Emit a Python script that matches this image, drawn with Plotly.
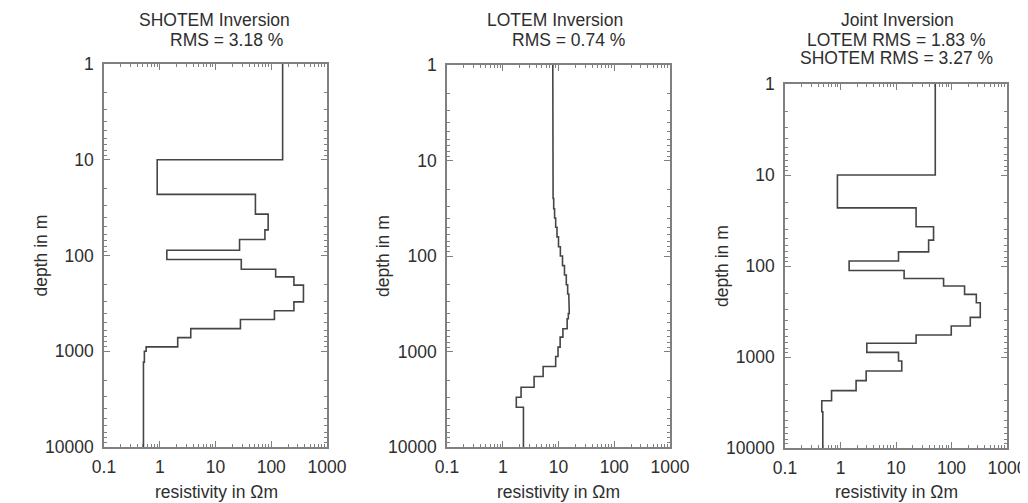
import plotly.graph_objects as go

# ---- data ----
# layer boundaries (depth in m) and resistivities (Ohm m)
shotem_depth = [1, 10, 23, 37, 54, 68, 88, 110, 139, 167, 204, 305, 378, 466, 580, 720, 900, 1000, 1300, 10000]
shotem_rho = [160, 0.9, 52, 88, 77, 27, 1.34, 29, 120, 255, 378, 255, 114, 28, 3.6, 2.1, 0.57, 0.53, 0.51]

lotem_depth = [1, 20, 25, 32, 40, 50, 63, 80, 100, 126, 158, 200, 250, 316, 400, 454, 578, 707, 900,
               1128, 1436, 1828, 2366, 3010, 3840, 10000]
lotem_rho = [7.9, 8.0, 8.2, 8.5, 8.9, 9.4, 10.0, 10.8, 11.8, 12.8, 13.8, 14.6, 15.3, 15.6, 15.0,
             14.3, 12.0, 10.7, 9.8, 8.9, 5.3, 3.65, 2.13, 1.75, 2.35]

joint_depth = [1, 10, 23, 37, 52, 70, 88, 112, 137, 166, 205, 253, 367, 456, 573, 707, 889, 1107,
               1425, 1820, 2344, 3020, 4000, 10000]
joint_rho = [51, 0.88, 23, 47.5, 38.7, 11.1, 1.43, 14, 72, 172, 280, 330, 218, 99, 23, 2.98, 11.1,
             12.7, 2.9, 1.91, 0.69, 0.46, 0.48]

x_tick_vals = [0.1, 1, 10, 100, 1000]
x_tick_text = ["0.1", "1", "10", "100", "1000"]
y_tick_vals = [1, 10, 100, 1000, 10000]
y_tick_text = ["1", "10", "100", "1000", "10000"]

titles = [
    ["SHOTEM Inversion", "RMS = 3.18 %"],
    ["LOTEM Inversion", "RMS = 0.74 %"],
    ["Joint Inversion", "LOTEM RMS = 1.83 %", "SHOTEM RMS = 3.27 %"],
]
x_title = "resistivity in Ωm"
y_title = "depth in m"

# the page body has an 8 px default margin: the figure is sized and positioned to fit the window
OFF = 8
W, H = 1028 - OFF, 503 - OFF
FONT = "Liberation Sans, Arial, Helvetica, sans-serif"
FS = 17.5
TXT = "#2e2e2e"
BOX = "#808080"
CURVE = "#454545"


def px(x):
    return (x - OFF) / W


def py(y):
    return 1 - (y - OFF) / H


# panel boxes in window pixels (left, right, top, bottom)
boxes = [(104, 327, 64, 447), (447, 670, 65, 447), (785, 1007, 84, 448)]


def step_xy(depth, rho):
    xs, ys = [], []
    for i, r in enumerate(rho):
        xs += [r, r]
        ys += [depth[i], depth[i + 1]]
    return xs, ys


def minor_vals(lo_exp, hi_exp):
    vals = []
    for e in range(lo_exp, hi_exp):
        for m in range(2, 10):
            vals.append(m * 10 ** e)
    return vals


fig = go.Figure()
datasets = [(shotem_depth, shotem_rho), (lotem_depth, lotem_rho), (joint_depth, joint_rho)]

for i, (d, r) in enumerate(datasets):
    n = "" if i == 0 else str(i + 1)
    xs, ys = step_xy(d, r)
    fig.add_trace(go.Scatter(x=xs, y=ys, mode="lines", line=dict(color=CURVE, width=1.6),
                             xaxis="x" + n, yaxis="y" + n, showlegend=False, hoverinfo="skip"))
    l, rgt, t, b = boxes[i]
    axis_common = dict(type="log", showgrid=False, zeroline=False, showline=True, linecolor=BOX,
                       linewidth=1.5, mirror="allticks", ticks="inside", ticklen=6, tickcolor=BOX,
                       tickwidth=1, automargin=False,
                       tickfont=dict(family=FONT, size=FS, color=TXT))
    fig.update_layout(**{
        "xaxis" + n: dict(axis_common, domain=[px(l), px(rgt)], range=[-1, 3], anchor="y" + n,
                          tickvals=x_tick_vals, ticktext=x_tick_text, ticklabelstandoff=3,
                          minor=dict(tickvals=minor_vals(-1, 3), ticks="inside", ticklen=3,
                                     tickcolor=BOX, tickwidth=1)),
        "yaxis" + n: dict(axis_common, domain=[py(b), py(t)], range=[4, 0], anchor="x" + n,
                          tickvals=y_tick_vals, ticktext=y_tick_text, ticklabelstandoff=5,
                          minor=dict(tickvals=minor_vals(0, 4), ticks="inside", ticklen=3,
                                     tickcolor=BOX, tickwidth=1)),
    })

# titles
title_pos = [([214, 226], [20, 40]), ([555, 568], [20, 40]), ([897, 896, 896], [20, 40, 58])]
for (cxs, ys), lines in zip(title_pos, titles):
    for cx, yy, txt in zip(cxs, ys, lines):
        fig.add_annotation(x=px(cx), y=py(yy), xref="paper", yref="paper", text=txt,
                           showarrow=False, xanchor="center", yanchor="middle",
                           font=dict(family=FONT, size=FS, color=TXT))

# axis titles
x_title_cx = [216, 558, 896]
y_title_cx = [40, 383, 722]
for i, (l, rgt, t, b) in enumerate(boxes):
    fig.add_annotation(x=px(x_title_cx[i]), y=py(492), xref="paper", yref="paper", text=x_title,
                       showarrow=False, xanchor="center", yanchor="middle",
                       font=dict(family=FONT, size=FS, color=TXT))
    fig.add_annotation(x=px(y_title_cx[i]), y=py((t + b) / 2), xref="paper", yref="paper",
                       text=y_title, textangle=-90, showarrow=False, xanchor="center", yanchor="middle",
                       font=dict(family=FONT, size=FS, color=TXT))

fig.update_layout(width=W, height=H, margin=dict(l=0, r=0, t=0, b=0, autoexpand=False),
                  paper_bgcolor="white", plot_bgcolor="white")

fig.write_html("out.html")
